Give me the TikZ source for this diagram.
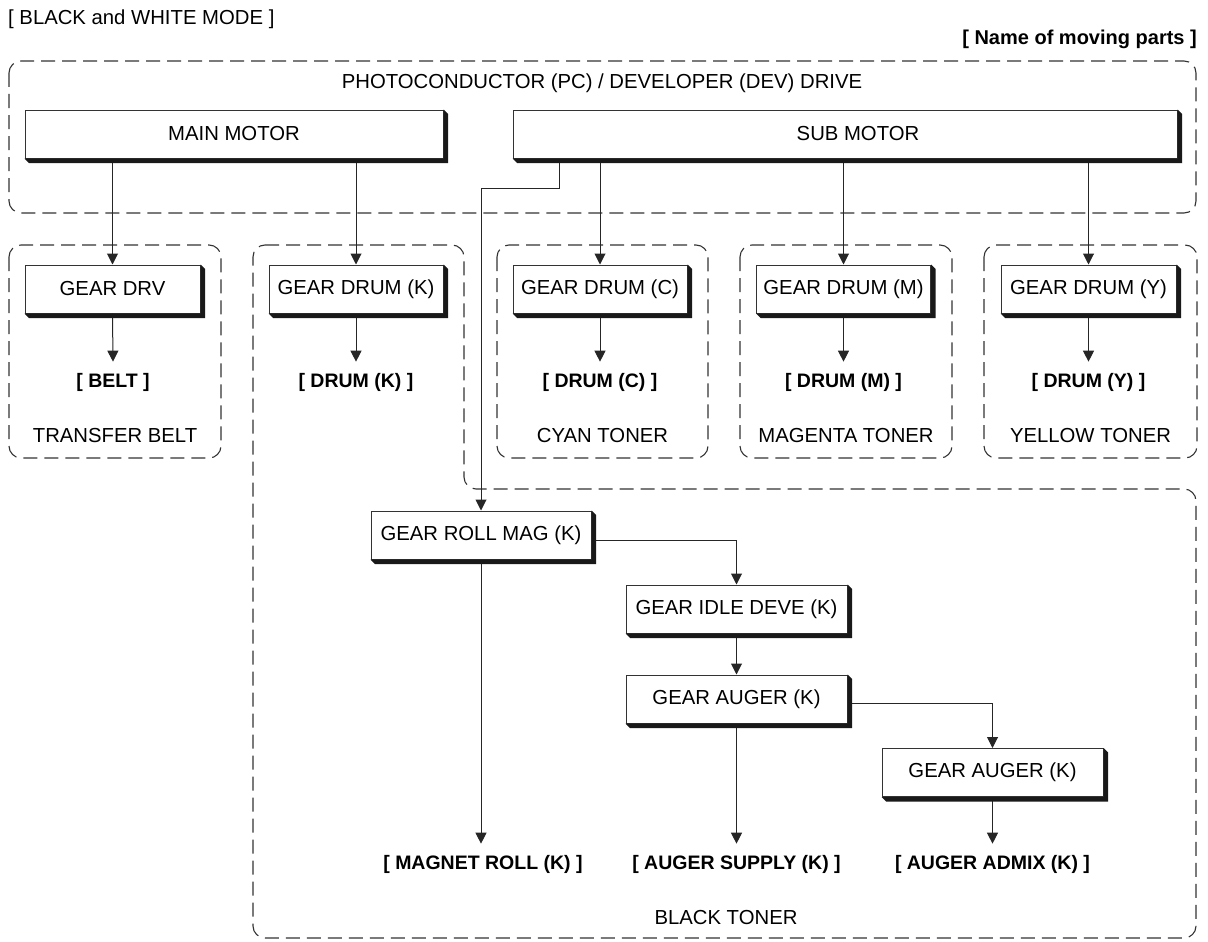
\documentclass[tikz,border=0pt]{standalone}
\usepackage{fontspec}
\setmainfont{Liberation Sans}
\usetikzlibrary{arrows.meta}
\begin{document}
\begin{tikzpicture}[x=1pt,y=-1pt,
  every node/.style={text=black},
  gbox/.style={draw=black!80, line width=1pt, fill=white, minimum height=48pt, inner sep=0pt, font=\fontsize{20.3}{24}\selectfont},
  region/.style={draw=black!80, line width=1.1pt, dash pattern=on 14pt off 7pt, rounded corners=12pt},
  rlabel/.style={font=\fontsize{20.3}{24}\selectfont},
  part/.style={font=\bfseries\fontsize{19.5}{24}\selectfont, anchor=base, inner ysep=11pt},
  conn/.style={draw=black!85, line width=1pt},
  arr/.style={conn, -{Triangle[width=11pt,length=11pt]}},
  shade/.style={fill=black!90}
]
\useasboundingbox (0,0) rectangle (1208,942);

% regions
\draw[region] (9,61) rectangle (1196,213);
\draw[region] (9,245) rectangle (221,458);
\draw[region] (497,245) rectangle (708,458);
\draw[region] (740,245) rectangle (952,458);
\draw[region] (984,245) rectangle (1197,458);
\draw[region] (253,245) -- (464,245) -- (464,489) -- (1196,489) -- (1196,938) -- (253,938) -- cycle;

% region labels
\node[rlabel] (pcl) at (602,83) {PHOTOCONDUCTOR (PC) / DEVELOPER (DEV) DRIVE};
\node[rlabel] (tbl) at (115,436) {TRANSFER BELT};
\node[rlabel] (cyl) at (602.5,436) {CYAN TONER};
\node[rlabel] (mgl) at (846,436) {MAGENTA TONER};
\node[rlabel] (yel) at (1090.5,436) {YELLOW TONER};
\node[rlabel] (bkl) at (726,918) {BLACK TONER};

% headers
\node[rlabel, anchor=base west, inner sep=0pt] (title) at (8,25) {[ BLACK and WHITE MODE ]};
\node[font=\bfseries\fontsize{20}{24}\selectfont, anchor=base east, inner sep=0pt] (legend) at (1197,45) {[ Name of moving parts ]};

% boxes
\node[gbox, minimum width=418pt] (mm) at (234,134) {MAIN MOTOR};
\node[gbox, minimum width=664pt] (sm) at (845,134) {};
\node[rlabel] (smt) at (858,134) {SUB MOTOR};
\node[gbox, minimum width=175pt] (gdrv) at (112.5,289) {GEAR DRV};
\node[gbox, minimum width=174pt] (gdk) at (356,289) {GEAR DRUM (K)};
\node[gbox, minimum width=174pt] (gdc) at (600,289) {GEAR DRUM (C)};
\node[gbox, minimum width=174pt] (gdm) at (843.5,289) {GEAR DRUM (M)};
\node[gbox, minimum width=175pt] (gdy) at (1088.5,289) {GEAR DRUM (Y)};
\node[gbox, minimum width=220pt] (grm) at (481,535) {GEAR ROLL MAG (K)};
\node[gbox, minimum width=221pt] (gid) at (736.5,609) {GEAR IDLE DEVE (K)};
\node[gbox, minimum width=221pt] (ga1) at (736.5,699) {GEAR AUGER (K)};
\node[gbox, minimum width=221pt] (ga2) at (992.5,772.5) {GEAR AUGER (K)};

% parts
\node[part] (belt) at (113,387) {[ BELT ]};
\node[part] (drk) at (356,387) {[ DRUM (K) ]};
\node[part] (drc) at (600,387) {[ DRUM (C) ]};
\node[part] (drm) at (843.5,387) {[ DRUM (M) ]};
\node[part] (dry) at (1088.5,387) {[ DRUM (Y) ]};
\node[part] (mag) at (483,869) {[ MAGNET ROLL (K) ]};
\node[part] (sup) at (736.5,869) {[ AUGER SUPPLY (K) ]};
\node[part] (adm) at (992.5,869) {[ AUGER ADMIX (K) ]};

% connectors
\draw[arr] (gdrv.north |- mm.south) -- (gdrv.north);
\draw[arr] (gdk.north |- mm.south) -- (gdk.north);
\draw[arr] (gdc.north |- sm.south) -- (gdc.north);
\draw[arr] (gdm.north |- sm.south) -- (gdm.north);
\draw[arr] (gdy.north |- sm.south) -- (gdy.north);
\coordinate (br) at (559,188);
\draw[arr] (br |- sm.south) -- (br) -| (grm.north);

\draw[arr] (gdrv.south) -- (belt.north);
\draw[arr] (gdk.south) -- (drk.north);
\draw[arr] (gdc.south) -- (drc.north);
\draw[arr] (gdm.south) -- (drm.north);
\draw[arr] (gdy.south) -- (dry.north);

\draw[arr] ([yshift=-5pt]grm.east) -| (gid.north);
\draw[arr] (gid.south) -- (ga1.north);
\draw[arr] ([yshift=-4pt]ga1.east) -| (ga2.north);
\draw[arr] (grm.south) -- (grm.south |- mag.north);
\draw[arr] (ga1.south) -- (sup.north);
\draw[arr] (ga2.south) -- (adm.north);

% box shadows
\foreach \n in {mm,sm,gdrv,gdk,gdc,gdm,gdy,grm,gid,ga1,ga2}{
  \fill[shade] (\n.north east) -- ([xshift=4.5pt,yshift=-4.5pt]\n.north east)
    -- ([xshift=4.5pt,yshift=-4.5pt]\n.south east)
    -- ([xshift=4.5pt,yshift=-4.5pt]\n.south west)
    -- (\n.south west) -- (\n.south east) -- cycle;
}
\end{tikzpicture}
\end{document}
